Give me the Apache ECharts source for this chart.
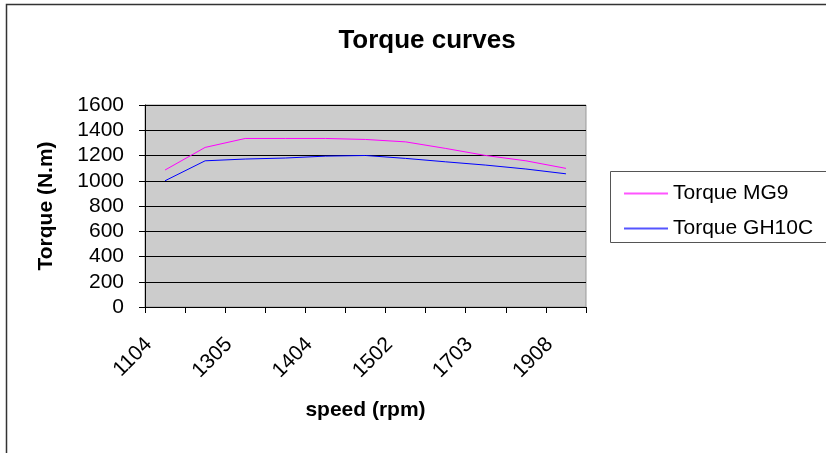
<!DOCTYPE html>
<html>
<head>
<meta charset="utf-8">
<script src="https://cdn.jsdelivr.net/npm/echarts@6/dist/echarts.min.js"></script>
<style>
  html, body { margin: 0; padding: 0; background: #fff; }
  #torque { width: 826px; height: 453px; }
</style>
</head>
<body>
<div id="torque"></div>
<script>
  // speed categories (rpm), only every other one is labelled in the picture
  var speeds = ['1104', '1200', '1305', '1353', '1404', '1453', '1502', '1600', '1703', '1805', '1908'];
  var torqueMG9 = [1085, 1264, 1335, 1335, 1335, 1327, 1308, 1256, 1200, 1158, 1098];
  var torqueGH10C = [1000, 1158, 1172, 1180, 1195, 1200, 1177, 1150, 1124, 1093, 1055];
  var yTicks = [0, 1600, 200];

  var chart = echarts.init(document.getElementById('torque'));
  var font = 'Liberation Sans, Arial, sans-serif';

  var option = {
    animation: false,
    backgroundColor: '#ffffff',
    title: {
      text: 'Torque curves',
      left: 422,
      top: 23,
      textAlign: 'center',
      textStyle: { fontFamily: font, fontSize: 26, fontWeight: 'bold', color: '#000' }
    },
    legend: {
      orient: 'vertical',
      left: 619,
      top: 178,
      itemWidth: 44,
      itemHeight: 2,
      itemGap: 14,
      icon: 'rect',
      itemStyle: { borderWidth: 0 },
      data: [
        { name: 'Torque MG9', itemStyle: { color: '#ff55ff', borderWidth: 0 } },
        { name: 'Torque GH10C', itemStyle: { color: '#5555ff', borderWidth: 0 } }
      ],
      textStyle: { fontFamily: font, fontSize: 21, color: '#000' }
    },
    graphic: [
      // outer chart border (only top and left are inside the picture)
      { type: 'rect', shape: { x: 6.5, y: 4.5, width: 900, height: 600 },
        style: { fill: 'none', stroke: '#333', lineWidth: 1.5 }, z: -1 },
      // legend box
      { type: 'rect', shape: { x: 610.5, y: 171.5, width: 300, height: 71 },
        style: { fill: 'none', stroke: '#555', lineWidth: 1 } }
    ],
    grid: {
      left: 145,
      right: 240,
      top: 105,
      bottom: 146,
      show: true,
      backgroundColor: '#cccccc',
      borderColor: '#999999',
      borderWidth: 1
    },
    xAxis: {
      type: 'category',
      data: speeds,
      boundaryGap: true,
      name: 'speed (rpm)',
      nameLocation: 'middle',
      nameGap: 93,
      nameTextStyle: { fontFamily: font, fontSize: 21, fontWeight: 'bold', color: '#000' },
      axisLine: { lineStyle: { color: '#000', width: 1 } },
      axisTick: { show: true, interval: 0, length: 6, lineStyle: { color: '#000' } },
      axisLabel: {
        interval: 1,
        rotate: 45,
        margin: 18,
        padding: [0, 23, 0, 0],
        fontFamily: font,
        fontSize: 21,
        color: '#000'
      }
    },
    yAxis: {
      type: 'value',
      min: yTicks[0],
      max: yTicks[1],
      interval: yTicks[2],
      name: 'Torque (N.m)',
      nameLocation: 'middle',
      nameGap: 88,
      nameTextStyle: { fontFamily: font, fontSize: 21, fontWeight: 'bold', color: '#000' },
      axisLine: { show: true, lineStyle: { color: '#000', width: 1 } },
      axisTick: { show: true, length: 6, lineStyle: { color: '#000' } },
      splitLine: { show: true, lineStyle: { color: '#000', width: 1 } },
      axisLabel: {
        margin: 21,
        fontFamily: font,
        fontSize: 21,
        color: '#000',
        formatter: function (v) { return String(v); }
      }
    },
    series: [
      {
        name: 'Torque MG9',
        type: 'line',
        data: torqueMG9,
        showSymbol: false,
        symbol: 'none',
        lineStyle: { color: '#ff00ff', width: 1 },
        itemStyle: { color: '#ff00ff' }
      },
      {
        name: 'Torque GH10C',
        type: 'line',
        data: torqueGH10C,
        showSymbol: false,
        symbol: 'none',
        lineStyle: { color: '#0000ff', width: 1 },
        itemStyle: { color: '#0000ff' }
      }
    ]
  };

  chart.setOption(option);
</script>
</body>
</html>
